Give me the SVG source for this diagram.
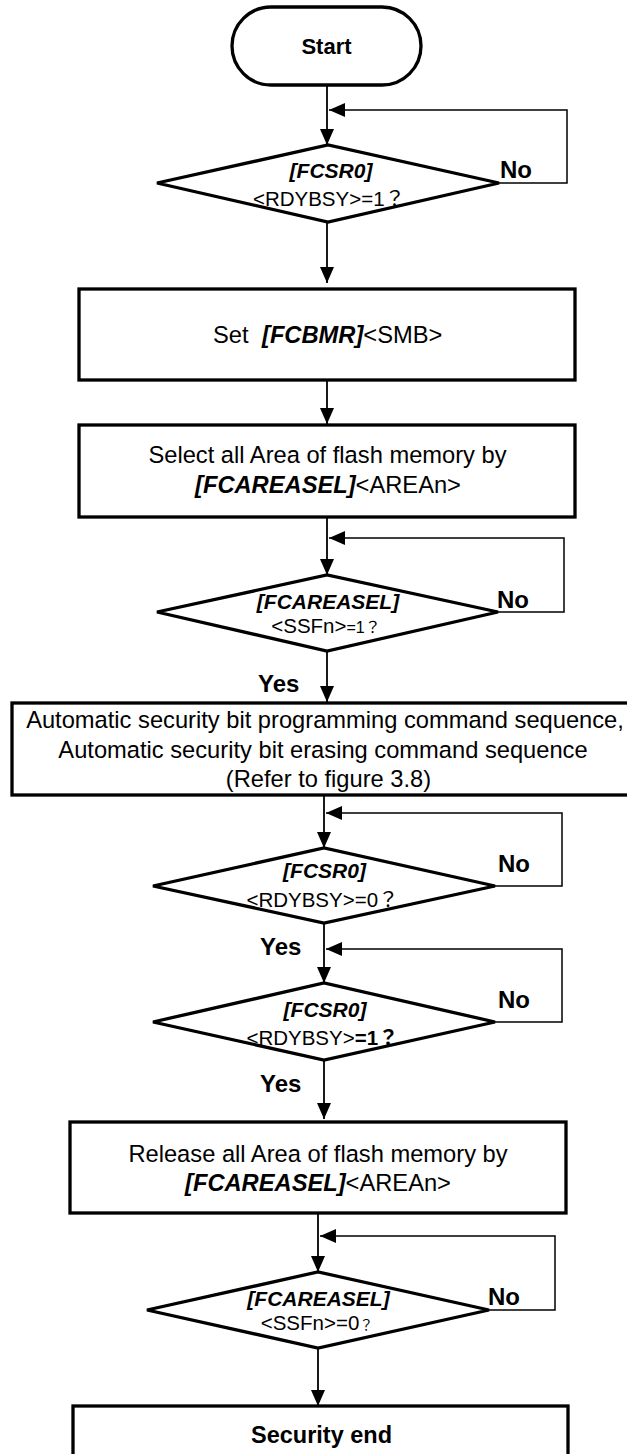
<svg xmlns="http://www.w3.org/2000/svg" width="627" height="1454" viewBox="0 0 627 1454">
<style>
.shape{fill:#fff;stroke:#000;stroke-width:3.3;stroke-linejoin:miter}
.conn{fill:none;stroke:#000;stroke-width:1.8}
.loop{fill:none;stroke:#000;stroke-width:1.5}
text{font-family:"Liberation Sans",Arial,"Noto Sans CJK JP",sans-serif;fill:#000}
.t{font-size:23.7px}
.d{font-size:20.5px}
.bi{font-weight:bold;font-style:italic}
.lbl{font-size:24px;font-weight:bold}
.m{text-anchor:middle}
</style>
<defs>
<marker id="ah" markerUnits="userSpaceOnUse" markerWidth="16" markerHeight="16" viewBox="0 0 16 16" refX="16" refY="8" orient="auto">
<path d="M0,1 L16,8 L0,15 Z" fill="#000"/>
</marker>
</defs>
<rect width="627" height="1454" fill="#fff"/>

<g id="connectors">
<line class="conn" x1="327" y1="85" x2="327" y2="145" marker-end="url(#ah)"/>
<polyline class="loop" points="499,183 567,183 567,110 329,110" marker-end="url(#ah)"/>
<line class="conn" x1="327" y1="222" x2="327" y2="283" marker-end="url(#ah)"/>
<line class="conn" x1="327" y1="380" x2="327" y2="424" marker-end="url(#ah)"/>
<line class="conn" x1="327" y1="517" x2="327" y2="575" marker-end="url(#ah)"/>
<polyline class="loop" points="498,612 564,612 564,538 329,538" marker-end="url(#ah)"/>
<line class="conn" x1="327" y1="651" x2="327" y2="702" marker-end="url(#ah)"/>
<line class="conn" x1="324" y1="795" x2="324" y2="848" marker-end="url(#ah)"/>
<polyline class="loop" points="495,886 562,886 562,813 326,813" marker-end="url(#ah)"/>
<line class="conn" x1="324" y1="923" x2="324" y2="983" marker-end="url(#ah)"/>
<polyline class="loop" points="495,1022 562,1022 562,949 326,949" marker-end="url(#ah)"/>
<line class="conn" x1="324" y1="1060" x2="324" y2="1119" marker-end="url(#ah)"/>
<line class="conn" x1="318" y1="1213" x2="318" y2="1272" marker-end="url(#ah)"/>
<polyline class="loop" points="489,1310 555,1310 555,1236 320,1236" marker-end="url(#ah)"/>
<line class="conn" x1="318" y1="1348" x2="318" y2="1406" marker-end="url(#ah)"/>
</g>

<g id="start">
<rect class="shape" x="232" y="7" width="189" height="78" rx="39" ry="39"/>
<text class="m" x="326.5" y="54" style="font-size:22px;font-weight:bold">Start</text>
</g>

<g id="check1">
<polygon class="shape" points="157,183 328,145 499,183 328,222"/>
<text class="m d bi" x="331" y="178" style="font-size:21px">[FCSR0]</text>
<text class="m d" x="329" y="206">&lt;RDYBSY&gt;=1？</text>
<text class="lbl" x="500" y="178">No</text>
</g>

<g id="setSMB">
<rect class="shape" x="79" y="289" width="496" height="91"/>
<text class="t" y="343"><tspan x="213">Set</tspan><tspan x="262" class="bi">[FCBMR]</tspan><tspan>&lt;SMB&gt;</tspan></text>
</g>

<g id="selectArea">
<rect class="shape" x="79" y="425" width="496" height="92"/>
<text class="t m" x="327.5" y="463">Select all Area of flash memory by</text>
<text class="t m" x="328" y="493"><tspan class="bi">[FCAREASEL]</tspan>&lt;AREAn&gt;</text>
</g>

<g id="check2">
<polygon class="shape" points="157,612 327,575 498,612 327,651"/>
<text class="m d bi" x="328" y="609" style="font-size:21px">[FCAREASEL]</text>
<text class="m d" x="326" y="633">&lt;SSFn&gt;<tspan style="font-size:16px">=1？</tspan></text>
<text class="lbl" x="497" y="608">No</text>
<text class="lbl" x="258" y="692">Yes</text>
</g>

<g id="autoSeq">
<rect class="shape" x="12" y="703" width="620" height="92"/>
<text class="t m" x="325" y="728">Automatic security bit programming command sequence,</text>
<text class="t m" x="323" y="758">Automatic security bit erasing command sequence</text>
<text class="t m" x="328.5" y="787">(Refer to figure 3.8)</text>
</g>

<g id="check3">
<polygon class="shape" points="153,886 324,848 495,886 324,923"/>
<text class="m d bi" x="324.5" y="878" style="font-size:21px">[FCSR0]</text>
<text class="m d" x="322.5" y="907">&lt;RDYBSY&gt;=0？</text>
<text class="lbl" x="498" y="872">No</text>
<text class="lbl" x="260" y="955">Yes</text>
</g>

<g id="check4">
<polygon class="shape" points="153,1022 324,983 495,1022 324,1060"/>
<text class="m d bi" x="325" y="1017" style="font-size:21px">[FCSR0]</text>
<text class="m d" x="322.5" y="1045">&lt;RDYBSY&gt;<tspan style="font-weight:bold">=1？</tspan></text>
<text class="lbl" x="498" y="1008">No</text>
<text class="lbl" x="260" y="1092">Yes</text>
</g>

<g id="releaseArea">
<rect class="shape" x="70" y="1122" width="496" height="91"/>
<text class="t m" x="318" y="1162">Release all Area of flash memory by</text>
<text class="t m" x="318" y="1191"><tspan class="bi">[FCAREASEL]</tspan>&lt;AREAn&gt;</text>
</g>

<g id="check5">
<polygon class="shape" points="147,1310 318,1272 489,1310 318,1348"/>
<text class="m d bi" x="318.5" y="1306" style="font-size:21px">[FCAREASEL]</text>
<text class="m d" x="317" y="1330">&lt;SSFn&gt;=0<tspan style="font-size:14px">？</tspan></text>
<text class="lbl" x="488" y="1305">No</text>
</g>

<g id="end">
<rect class="shape" x="73" y="1406" width="495" height="60"/>
<text class="m" x="321.5" y="1443" style="font-size:23.5px;font-weight:bold">Security end</text>
</g>
</svg>
